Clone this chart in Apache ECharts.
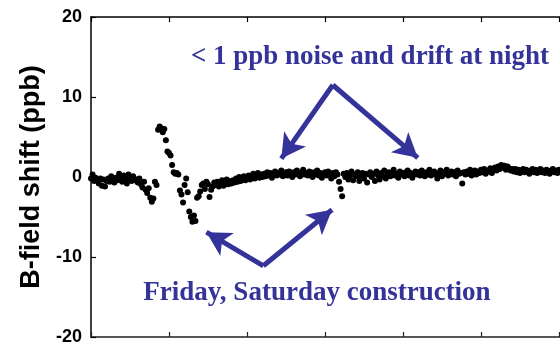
<!DOCTYPE html>
<html>
<head>
<meta charset="utf-8">
<script src="https://cdn.jsdelivr.net/npm/echarts@6/dist/echarts.min.js"></script>
<style>
html,body{margin:0;padding:0;background:#fff;}
#chart{width:560px;height:347px;}
</style>
</head>
<body>
<div id="chart"></div>
<script>
// Regular sampling in time (arbitrary units; one x tick = 1 unit)
var sampleStart = 0;
var sampleStep = 0.02;
// B-field shift readings (ppb), one per sample
var shiftPpb = [
  -0.2, 0.3, -0.5, -0.1, -0.4, -0.8, -0.2, -1.1, -0.3, -1.2,
  -0.5, -0.2, -0.6, 0.1, -0.3, -0.7, -0.1, -0.4, 0.4, -0.2,
  -0.6, 0.2, -0.3, -0.8, 0.3, -0.2, -0.5, 0.1, -0.4, -0.3,
  -0.7, -0.2, -0.9, -1.3, -0.6, -1.6, -2.0, -1.4, -2.6, -3.1,
  -2.7, -0.6, -1.0,
  5.9, 6.3, 6.1, 5.6, 6.0, 4.6, 3.2, 3.0, 2.7, 1.5,
  0.6, 0.4, 0.5, 0.3, -1.7, -2.2, -3.2, -1.0, -0.2, -1.9,
  -4.3, -5.0, -5.6, -4.8, -5.5, -2.6, -2.4, -1.8, -1.0, -0.8,
  -1.5, -0.6, -0.9, -2.5, -1.6, -1.2, -0.7, -1.0,
  -0.6, -1.2, -0.8, -0.4, -1.1, -0.7, -0.3, -0.9, -0.5, -0.8,
  -0.4, -0.7, -0.2, -0.6, 0.0, -0.5, -0.3, 0.1, -0.4, -0.1,
  0.2, -0.3, 0.0, 0.4, -0.2, 0.1, 0.5, -0.1, 0.3, 0.0,
  0.4, 0.1, 0.6, 0.2, 0.5, -0.1, 0.3, 0.7, 0.2, 0.5,
  0.3, 0.8, 0.1, 0.5, 0.6, 0.2, 0.7, 0.4, 0.0, 0.6,
  0.3, 0.8, 0.4, 0.1, 0.6, 0.9, 0.3, 0.5, 0.2, 0.7,
  0.4, 0.0, 0.6, 0.3, 0.8, 0.2, 0.5, -0.1, 0.4, 0.6,
  0.2, 0.7, 0.3, -0.2, 0.5, 0.1, 0.6, 0.3, -0.6, -1.5,
  -2.4, 0.4, 0.0, 0.5, -0.3, 0.2, 0.7, -0.4, 0.3, 0.1,
  0.6, -0.5, 0.2, 0.5, -0.2, 0.4, -0.7, 0.3, 0.6, 0.0,
  0.4, -0.5, 0.7, 0.2, -0.3, 0.5, 0.1, 0.8, -0.2, 0.4,
  0.6, 0.1, 0.5, 0.9, 0.2, 0.4, -0.1, 0.7, 0.3, 0.5,
  0.1, 0.6, 0.8, 0.2, 0.5, -0.1, 0.4, 0.7, 0.3, 0.6,
  0.2, 0.8, 0.4, 0.1, 0.6, 0.3, 0.9, 0.2, 0.5, 0.7,
  0.3, -0.2, 0.5, 0.8, 0.1, 0.6, 0.4, 0.9, 0.2, 0.5,
  0.7, 0.3, 0.6, 0.1, 0.8, 0.4, 0.5, -0.8, 0.6, 0.3,
  0.7, 0.4, 0.9, 0.2, 0.6, 0.8, 0.3, 0.7, 0.5, 0.9,
  0.6, 1.0, 0.4, 0.8, 0.7, 1.1, 0.5, 0.9, 1.2, 0.8,
  1.3, 1.0, 1.5, 1.2, 1.4, 0.9, 1.3, 1.1, 0.8, 1.0,
  0.7, 1.0, 0.6, 0.9, 0.5, 0.8, 1.0, 0.6, 0.9, 0.7,
  0.4, 0.8, 1.0, 0.6, 0.9, 0.5, 0.7, 1.0, 0.6, 0.8,
  0.5, 0.9, 0.7, 0.4, 0.8, 1.0, 0.6, 0.8, 0.5, 0.9, 0.7, 0.8
];
var xMin = 0, xMax = 6.013;   // the visible part of the axis (right end is cut off)
var yTicks = [-20, -10, 0, 10, 20];
var yTitle = 'B-field shift (ppb)';
var noteNight = '< 1 ppb noise and drift at night';
var noteConstruction = 'Friday, Saturday construction';
// Annotation arrows in data coordinates: [apex, tip]
var nightArrows = [[[3.10, 11.5], [2.44, 2.3]], [[3.10, 11.5], [4.19, 2.4]]];
var constructionArrows = [[[2.21, -11.1], [1.48, -6.9]], [[2.21, -11.1], [3.09, -4.1]]];

var pts = shiftPpb.map(function (v, i) { return [sampleStart + i * sampleStep, v]; });
var blue = '#333399';

function arrowLines(list) {
  return list.map(function (a) {
    return [{ coord: a[0], symbol: 'none' }, { coord: a[1], symbol: 'arrow' }];
  });
}

var chart = echarts.init(document.getElementById('chart'), null, { renderer: 'canvas' });
chart.setOption({
  animation: false,
  backgroundColor: '#fff',
  grid: { left: 91, top: 17, right: 0, height: 320, containLabel: false },
  xAxis: [{
    type: 'value', min: xMin, max: xMax, interval: 1, position: 'bottom',
    axisLine: { show: true, onZero: false, lineStyle: { color: '#222', width: 1.5 } },
    axisTick: { show: true, inside: true, length: 5, lineStyle: { color: '#222', width: 1.2 } },
    axisLabel: { show: false }, splitLine: { show: false }
  }, {
    type: 'value', min: xMin, max: xMax, interval: 1, position: 'top',
    axisLine: { show: true, onZero: false, lineStyle: { color: '#000', width: 1.5 } },
    axisTick: { show: true, inside: true, length: 5, lineStyle: { color: '#000', width: 1.2 } },
    axisLabel: { show: false }, splitLine: { show: false }
  }],
  yAxis: {
    type: 'value', min: -20, max: 20, interval: 10,
    name: yTitle, nameLocation: 'middle', nameGap: 46, nameRotate: 90,
    nameTextStyle: { fontFamily: 'Liberation Sans, Arial', fontWeight: 'bold', fontSize: 27, color: '#000' },
    axisLine: { show: true, onZero: false, lineStyle: { color: '#000', width: 1.5 } },
    axisTick: { show: true, inside: true, length: 5, lineStyle: { color: '#000', width: 1.2 } },
    axisLabel: {
      margin: 9, fontFamily: 'Liberation Sans, Arial', fontWeight: 'bold', fontSize: 18, color: '#000',
      customValues: yTicks
    },
    splitLine: { show: false }
  },
  series: [{
    type: 'scatter',
    data: pts,
    symbolSize: 6,
    itemStyle: { color: '#000', opacity: 1 },
    markLine: {
      silent: true,
      symbolSize: [20, 24],
      lineStyle: { color: blue, width: 5, type: 'solid', opacity: 1 },
      label: { show: false },
      data: arrowLines(nightArrows).concat(arrowLines(constructionArrows))
    }
  }],
  graphic: [{
    type: 'text', x: 370, y: 57,
    style: { text: noteNight, align: 'center', verticalAlign: 'middle',
      font: 'bold 27px "Liberation Serif", "Times New Roman", serif', fill: blue }
  }, {
    type: 'text', x: 317, y: 293,
    style: { text: noteConstruction, align: 'center', verticalAlign: 'middle',
      font: 'bold 27px "Liberation Serif", "Times New Roman", serif', fill: blue }
  }]
});
</script>
</body>
</html>
